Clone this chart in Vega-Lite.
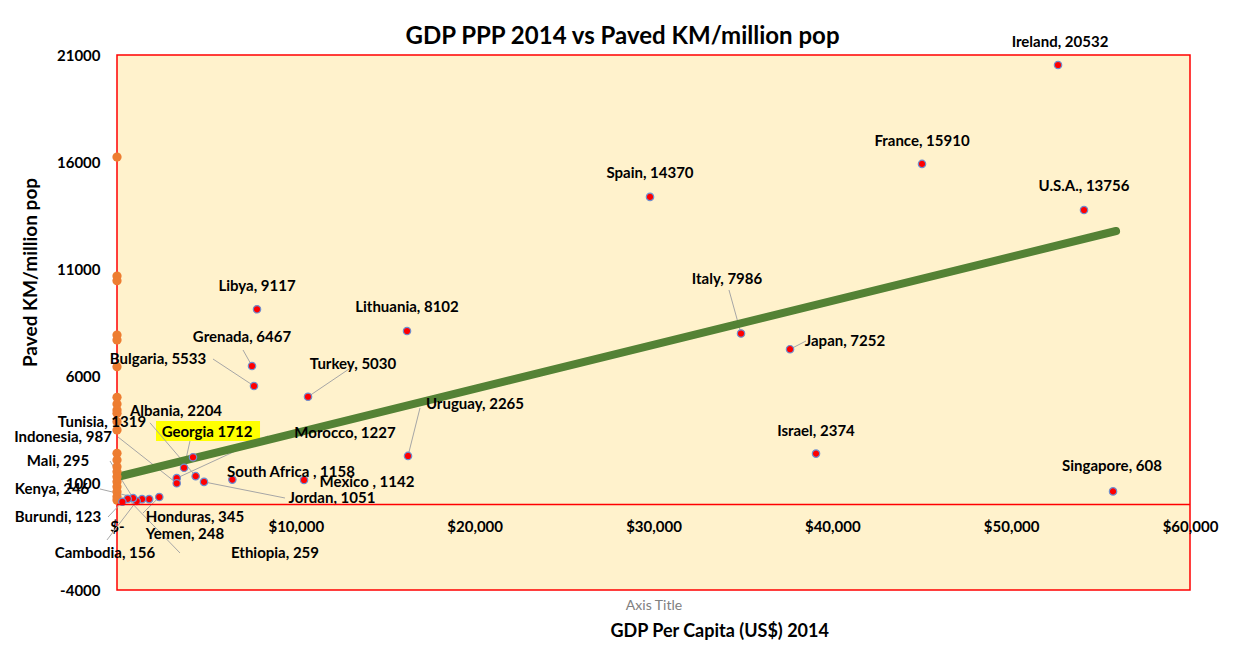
{
  "$schema": "https://vega.github.io/schema/vega-lite/v6.json",
  "width": 1073,
  "height": 535,
  "autosize": "none",
  "padding": {"left": 117, "top": 55, "right": 44, "bottom": 62},
  "background": "white",
  "title": {"text": "GDP PPP 2014 vs Paved KM/million pop", "font": "Lato", "fontSize": 24, "fontWeight": "bold", "color": "#000000", "dx": -31, "dy": 22, "offset": 8},
  "config": {
    "view": {"stroke": "#FF0000", "strokeWidth": 1.5, "fill": "#FFF2CC"},
    "text": {"font": "Lato"}
  },
  "datasets": {
    "pts": [
      {"country": "Ireland", "gdp": 52620, "km": 20532, "label": "Ireland, 20532", "lx": 52730, "ly": 21607},
      {"country": "France", "gdp": 45015, "km": 15910, "label": "France, 15910", "lx": 45015, "ly": 16982},
      {"country": "U.S.A.", "gdp": 54073, "km": 13756, "label": "U.S.A., 13756", "lx": 54072, "ly": 14879},
      {"country": "Spain", "gdp": 29805, "km": 14370, "label": "Spain, 14370", "lx": 29804, "ly": 15486},
      {"country": "Italy", "gdp": 34894, "km": 7986, "label": "Italy, 7986", "lx": 34109, "ly": 10533, "tx": 34221, "ty": 10019},
      {"country": "Japan", "gdp": 37634, "km": 7252, "label": "Japan, 7252", "lx": 40708, "ly": 7636, "tx": 38527, "ty": 7636},
      {"country": "Israel", "gdp": 39088, "km": 2374, "label": "Israel, 2374", "lx": 39086, "ly": 3430},
      {"country": "Singapore", "gdp": 55696, "km": 608, "label": "Singapore, 608", "lx": 55638, "ly": 1794},
      {"country": "Libya", "gdp": 7829, "km": 9117, "label": "Libya, 9117", "lx": 7828, "ly": 10206},
      {"country": "Lithuania", "gdp": 16217, "km": 8102, "label": "Lithuania, 8102", "lx": 16216, "ly": 9224},
      {"country": "Grenada", "gdp": 7549, "km": 6467, "label": "Grenada, 6467", "lx": 6990, "ly": 7823, "tx": 7046, "ty": 7215},
      {"country": "Bulgaria", "gdp": 7661, "km": 5533, "label": "Bulgaria, 5533", "lx": 2293, "ly": 6794, "tx": 5368, "ty": 6794},
      {"country": "Turkey", "gdp": 10681, "km": 5030, "label": "Turkey, 5030", "lx": 13196, "ly": 6561, "tx": 13141, "ty": 6421},
      {"country": "Uruguay", "gdp": 16273, "km": 2265, "label": "Uruguay, 2265", "lx": 20018, "ly": 4692, "tx": 16943, "ty": 4505},
      {"country": "Mexico", "gdp": 10457, "km": 1142, "label": "Mexico , 1142", "lx": 13979, "ly": 1047},
      {"country": "South Africa", "gdp": 6450, "km": 1158, "label": "South Africa , 1158", "lx": 9730, "ly": 1514},
      {"country": "Jordan", "gdp": 4865, "km": 1051, "label": "Jordan, 1051", "lx": 12022, "ly": 299, "tx": 9394, "ty": 299},
      {"country": "Tunisia", "gdp": 4400, "km": 1319, "label": "Tunisia, 1319", "lx": -839, "ly": 3851, "tx": 1845, "ty": 3813},
      {"country": "Morocco", "gdp": 3340, "km": 1227, "label": "Morocco,  1227", "lx": 12749, "ly": 3336, "tx": 8444, "ty": 3197},
      {"country": "Indonesia", "gdp": 3340, "km": 987, "label": "Indonesia, 987", "lx": -3020, "ly": 3150, "tx": 56, "ty": 3150},
      {"country": "Georgia", "gdp": 3750, "km": 1712, "label": "Georgia 1712", "lx": 5033, "ly": 3383, "tx": 4082, "ty": 2963},
      {"country": "Albania", "gdp": 4250, "km": 2204, "label": "Albania, 2204", "lx": 3299, "ly": 4364},
      {"country": "Honduras", "gdp": 2365, "km": 345, "label": "Honduras, 345", "lx": 4362, "ly": -589, "tx": 1454, "ty": -402},
      {"country": "Yemen", "gdp": 1800, "km": 248, "label": "Yemen, 248", "lx": 3802, "ly": -1383},
      {"country": "Kenya", "gdp": 1400, "km": 246, "label": "Kenya, 246", "lx": -3635, "ly": 720, "tx": -951, "ty": 720},
      {"country": "Cambodia", "gdp": 1100, "km": 156, "label": "Cambodia, 156", "lx": -671, "ly": -2271, "tx": -559, "ty": -1662},
      {"country": "Mali", "gdp": 900, "km": 295, "label": "Mali, 295", "lx": -3299, "ly": 2028, "tx": -391, "ty": 2028},
      {"country": "Ethiopia", "gdp": 600, "km": 259, "label": "Ethiopia, 259", "lx": 8835, "ly": -2271, "tx": 3523, "ty": -2271},
      {"country": "Burundi", "gdp": 300, "km": 123, "label": "Burundi,  123", "lx": -3299, "ly": -589, "tx": -503, "ty": -589}
    ],
    "orange": [
      {"gdp": 0, "km": 16230}, {"gdp": 0, "km": 10673}, {"gdp": 0, "km": 10453},
      {"gdp": 0, "km": 7916}, {"gdp": 0, "km": 7682}, {"gdp": 0, "km": 6435},
      {"gdp": 0, "km": 5005}, {"gdp": 0, "km": 4692}, {"gdp": 0, "km": 4411},
      {"gdp": 0, "km": 4257}, {"gdp": 0, "km": 3864}, {"gdp": 0, "km": 3477},
      {"gdp": 0, "km": 2388}, {"gdp": 0, "km": 2075}, {"gdp": 0, "km": 1762},
      {"gdp": 0, "km": 1528}, {"gdp": 0, "km": 1294}, {"gdp": 0, "km": 1061},
      {"gdp": 0, "km": 827}, {"gdp": 0, "km": 593}, {"gdp": 0, "km": 360},
      {"gdp": 0, "km": 200}
    ],
    "trend": [{"gdp": 0, "km": 1280}, {"gdp": 55864, "km": 12776}],
    "highlight": [{"x1": 2181, "x2": 7997, "y1": 3897, "y2": 2963}],
    "xtitle": [{"gdp": 33700, "km": -5959, "t": "GDP Per Capita (US$) 2014"}]
  },
  "encoding": {
    "x": {"type": "quantitative"},
    "y": {"type": "quantitative"}
  },
  "layer": [
    {
      "data": {"name": "highlight"},
      "mark": {"type": "rect", "color": "#FFFF00"},
      "encoding": {
        "x": {"field": "x1", "type": "quantitative", "scale": {"domain": [0, 60000], "nice": false, "zero": false},
          "axis": {"orient": "bottom", "offset": -86, "domain": false, "ticks": false, "grid": false,
            "values": [0, 10000, 20000, 30000, 40000, 50000, 60000],
            "labelExpr": "datum.value == 0 ? '$-' : format(datum.value, '$,.0f')",
            "labelFont": "Lato", "labelFontSize": 15, "labelFontWeight": "bold", "labelColor": "#000000", "labelPadding": 15,
            "labelFlush": false,
            "title": "Axis Title", "titleFont": "Lato", "titleFontSize": 14, "titleFontWeight": "normal", "titleColor": "#808080",
            "titleY": 101, "titleBaseline": "middle"}},
        "x2": {"field": "x2"},
        "y": {"field": "y1", "type": "quantitative", "scale": {"domain": [-4000, 21000], "nice": false, "zero": false},
          "axis": {"domain": false, "ticks": false, "grid": false,
            "values": [-4000, 1000, 6000, 11000, 16000, 21000],
            "labelExpr": "'' + datum.value",
            "labelFont": "Lato", "labelFontSize": 15, "labelFontWeight": "bold", "labelColor": "#000000", "labelPadding": 17,
            "title": "Paved KM/million pop", "titleFont": "Lato", "titleFontSize": 19, "titleFontWeight": "bold", "titleColor": "#000000",
            "titleX": -87, "titleY": 217, "titleAngle": -90, "titleBaseline": "middle", "titleAlign": "center"}},
        "y2": {"field": "y2"}
      }
    },
    {
      "data": {"name": "pts"},
      "transform": [{"filter": "isValid(datum.tx)"}],
      "mark": {"type": "rule", "color": "#A6A6A6", "strokeWidth": 1},
      "encoding": {
        "x": {"field": "gdp", "type": "quantitative"},
        "y": {"field": "km", "type": "quantitative"},
        "x2": {"field": "tx"},
        "y2": {"field": "ty"}
      }
    },
    {
      "data": {"name": "trend"},
      "mark": {"type": "line", "color": "#548235", "strokeWidth": 8, "strokeCap": "round"},
      "encoding": {
        "x": {"field": "gdp", "type": "quantitative"},
        "y": {"field": "km", "type": "quantitative"}
      }
    },
    {
      "data": {"name": "orange"},
      "mark": {"type": "circle", "color": "#ED7D31", "opacity": 1, "size": 85},
      "encoding": {
        "x": {"field": "gdp", "type": "quantitative"},
        "y": {"field": "km", "type": "quantitative"}
      }
    },
    {
      "data": {"name": "pts"},
      "mark": {"type": "circle", "fill": "#FF0000", "stroke": "#6F8FD0", "strokeWidth": 1.2, "opacity": 1, "size": 55},
      "encoding": {
        "x": {"field": "gdp", "type": "quantitative"},
        "y": {"field": "km", "type": "quantitative"}
      }
    },
    {
      "data": {"name": "pts"},
      "mark": {"type": "text", "fontSize": 15, "fontWeight": "bold", "color": "#000000", "align": "center", "baseline": "middle"},
      "encoding": {
        "x": {"field": "lx", "type": "quantitative"},
        "y": {"field": "ly", "type": "quantitative"},
        "text": {"field": "label"}
      }
    },
    {
      "data": {"values": [{"z": 0}]},
      "mark": {"type": "rule", "color": "#FF0000", "strokeWidth": 1.5},
      "encoding": {
        "y": {"datum": 0, "type": "quantitative"}
      }
    },
    {
      "data": {"name": "xtitle"},
      "mark": {"type": "text", "fontSize": 18, "fontWeight": "bold", "color": "#000000", "align": "center", "baseline": "middle"},
      "encoding": {
        "x": {"field": "gdp", "type": "quantitative"},
        "y": {"field": "km", "type": "quantitative"},
        "text": {"field": "t"}
      }
    }
  ]
}
